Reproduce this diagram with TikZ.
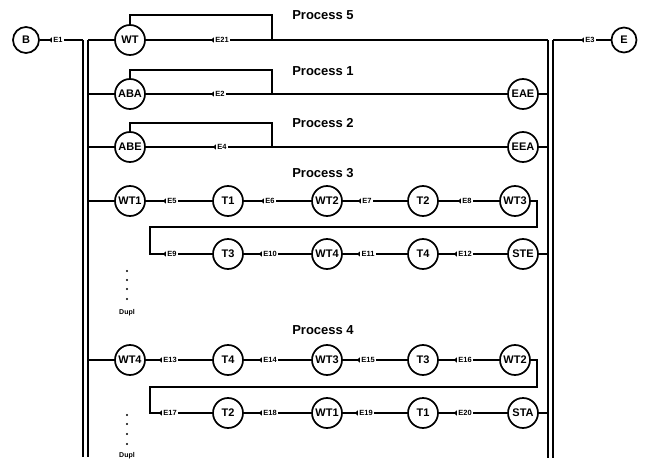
\documentclass[tikz,border=0pt]{standalone}
\usepackage{fontspec}
\setmainfont{Liberation Sans}
\usetikzlibrary{arrows.meta}
\begin{document}
\begin{tikzpicture}[x=1pt,y=-1pt,line width=1.9pt,
  st/.style={circle,draw,line width=1.7pt,minimum size=30pt,inner sep=0pt,
             font=\fontsize{11}{12}\selectfont\bfseries},
  el/.style={inner sep=0.6pt,font=\fontsize{7.5}{8}\selectfont\bfseries},
  tip/.style={-{Triangle[reversed,length=3pt,width=5pt]}},
  ttl/.style={font=\fontsize{13}{15}\selectfont\bfseries},
  dup/.style={font=\fontsize{7}{8}\selectfont\bfseries},
  dot/.style={circle,fill,inner sep=0pt,minimum size=2.4pt}]
\useasboundingbox (0,0) rectangle (647,462);

% bars
\coordinate (lot) at (83,40);  \coordinate (lob) at (83,457);
\coordinate (lit) at (88,40);  \coordinate (lib) at (88,457);
\coordinate (rit) at (548,40); \coordinate (rib) at (548,458);
\coordinate (rot) at (553,40); \coordinate (rob) at (553,458);
\draw (lot) -- (lob);
\draw (lit) -- (lib);
\draw (rit) -- (rib);
\draw (rot) -- (rob);

% begin / end
\node[st,minimum size=26pt] (B) at (26,40) {B};
\node[st,minimum size=25pt] (E) at (624,40) {E};
\node[el] (e1) at (58,40) {E1};
\draw[tip] (B) -- (e1);
\draw (e1) -- (lot);
\node[el] (e3) at (590,40) {E3};
\draw[tip] (rot) -- (e3);
\draw (e3) -- (E);

% titles
\node[ttl] (t5) at (323,15) {Process 5};
\node[ttl] (t1) at (323,71) {Process 1};
\node[ttl] (t2) at (323,123) {Process 2};
\node[ttl] (t3) at (323,173) {Process 3};
\node[ttl] (t4) at (323,330) {Process 4};

% Process 5
\node[st] (wt) at (130,40) {WT};
\node[el] (e21) at (222,40) {E21};
\coordinate (j5) at (272,40);
\draw (lit) -- (wt);
\draw[tip] (wt) -- (e21);
\draw (e21) -- (rit);
\draw (wt.north) -- ++(0,-9) -| (j5);

% Process 1
\node[st] (aba) at (130,94) {ABA};
\node[el] (e2) at (220,94) {E2};
\node[st] (eae) at (523,94) {EAE};
\coordinate (l1) at (88,94); \coordinate (r1) at (548,94);
\coordinate (j1) at (272,94);
\draw (l1) -- (aba);
\draw[tip] (aba) -- (e2);
\draw (e2) -- (eae);
\draw (eae) -- (r1);
\draw (aba.north) -- ++(0,-8) -| (j1);

% Process 2
\node[st] (abe) at (130,147) {ABE};
\node[el] (e4) at (222,147) {E4};
\node[st] (eea) at (523,147) {EEA};
\coordinate (l2) at (88,147); \coordinate (r2) at (548,147);
\coordinate (j2) at (272,147);
\draw (l2) -- (abe);
\draw[tip] (abe) -- (e4);
\draw (e4) -- (eea);
\draw (eea) -- (r2);
\draw (abe.north) -- ++(0,-8) -| (j2);

% Process 3, first row
\node[st] (p3a) at (130,201) {WT1};
\node[st] (p3b) at (228,201) {T1};
\node[st] (p3c) at (327,201) {WT2};
\node[st] (p3d) at (423,201) {T2};
\node[st] (p3e) at (515,201) {WT3};
\node[el] (e5) at (172,201) {E5};
\node[el] (e6) at (270,201) {E6};
\node[el] (e7) at (367,201) {E7};
\node[el] (e8) at (467,201) {E8};
\coordinate (l3) at (88,201);
\draw (l3) -- (p3a);
\draw[tip] (p3a) -- (e5); \draw (e5) -- (p3b);
\draw[tip] (p3b) -- (e6); \draw (e6) -- (p3c);
\draw[tip] (p3c) -- (e7); \draw (e7) -- (p3d);
\draw[tip] (p3d) -- (e8); \draw (e8) -- (p3e);

% Process 3, second row
\node[st] (p3f) at (228,254) {T3};
\node[st] (p3g) at (327,254) {WT4};
\node[st] (p3h) at (423,254) {T4};
\node[st] (p3i) at (523,254) {STE};
\node[el] (e9) at (172,254) {E9};
\node[el] (e10) at (270,254) {E10};
\node[el] (e11) at (368,254) {E11};
\node[el] (e12) at (465,254) {E12};
\coordinate (k3a) at (537,227); \coordinate (k3b) at (150,227);
\coordinate (r3) at (548,254);
\draw[tip] (p3e.east) -| (k3a) -- (k3b) |- (e9);
\draw (e9) -- (p3f);
\draw[tip] (p3f) -- (e10); \draw (e10) -- (p3g);
\draw[tip] (p3g) -- (e11); \draw (e11) -- (p3h);
\draw[tip] (p3h) -- (e12); \draw (e12) -- (p3i);
\draw (p3i) -- (r3);

% duplicates
\foreach \y [count=\i] in {271,280,289,299} \node[dot] (da\i) at (127,\y) {};
\node[dup] (du1) at (127,313) {Dupl};
\foreach \y [count=\i] in {415,424,434,444} \node[dot] (db\i) at (127,\y) {};
\node[dup] (du2) at (127,456) {Dupl};

% Process 4, first row
\node[st] (p4a) at (130,360) {WT4};
\node[st] (p4b) at (228,360) {T4};
\node[st] (p4c) at (327,360) {WT3};
\node[st] (p4d) at (423,360) {T3};
\node[st] (p4e) at (515,360) {WT2};
\node[el] (e13) at (170,360) {E13};
\node[el] (e14) at (270,360) {E14};
\node[el] (e15) at (368,360) {E15};
\node[el] (e16) at (465,360) {E16};
\coordinate (l4) at (88,360);
\draw (l4) -- (p4a);
\draw[tip] (p4a) -- (e13); \draw (e13) -- (p4b);
\draw[tip] (p4b) -- (e14); \draw (e14) -- (p4c);
\draw[tip] (p4c) -- (e15); \draw (e15) -- (p4d);
\draw[tip] (p4d) -- (e16); \draw (e16) -- (p4e);

% Process 4, second row
\node[st] (p4f) at (228,413) {T2};
\node[st] (p4g) at (327,413) {WT1};
\node[st] (p4h) at (423,413) {T1};
\node[st] (p4i) at (523,413) {STA};
\node[el] (e17) at (170,413) {E17};
\node[el] (e18) at (270,413) {E18};
\node[el] (e19) at (366,413) {E19};
\node[el] (e20) at (465,413) {E20};
\coordinate (k4a) at (537,387); \coordinate (k4b) at (150,387);
\coordinate (r4) at (548,413);
\draw[tip] (p4e.east) -| (k4a) -- (k4b) |- (e17);
\draw (e17) -- (p4f);
\draw[tip] (p4f) -- (e18); \draw (e18) -- (p4g);
\draw[tip] (p4g) -- (e19); \draw (e19) -- (p4h);
\draw[tip] (p4h) -- (e20); \draw (e20) -- (p4i);
\draw (p4i) -- (r4);
\end{tikzpicture}
\end{document}
